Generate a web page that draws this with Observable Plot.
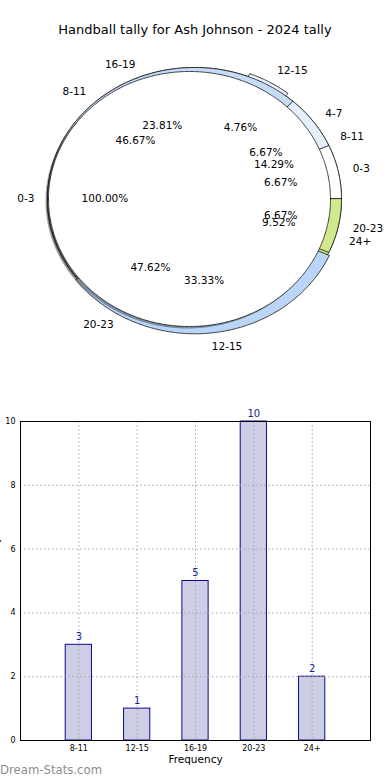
<!DOCTYPE html>
<html>
<head>
<meta charset="utf-8">
<script src="https://cdn.jsdelivr.net/npm/d3@7"></script>
<script src="https://cdn.jsdelivr.net/npm/@observablehq/plot@0.6"></script>
<style>
  html, body { margin: 0; padding: 0; background: #fff; width: 390px; height: 780px; overflow: hidden; }
  body { position: relative; font-family: "DejaVu Sans", sans-serif; }
  #title { position: absolute; left: 0; width: 390px; top: 21px; text-align: center; font-size: 13px; color: #000; line-height: 18px; }
  #pie { position: absolute; left: 0; top: 0; }
  #bars { position: absolute; left: 0; top: 400px; }
  #mark { position: absolute; left: 0; top: 761px; font-size: 11.7px; color: #8e8e8e; line-height: 18px; }
  svg { overflow: visible; }
</style>
</head>
<body>
<div id="pie"></div>
<div id="title">Handball tally for Ash Johnson - 2024 tally</div>
<div id="bars"></div>
<div id="mark">Dream-Stats.com</div>
<script>
// ---- data ----
const title = "Handball tally for Ash Johnson - 2024 tally";
const innerLabels = ["0-3"];
const innerValues = [1];
const middleLabels = ["0-3", "4-7", "8-11", "12-15", "20-23"];
const middleValues = [1, 1, 7, 5, 1];
const outerLabels = ["8-11", "12-15", "16-19", "20-23", "24+"];
const outerValues = [3, 1, 5, 10, 2];
const barLabels = ["8-11", "12-15", "16-19", "20-23", "24+"];
const barValues = [3, 1, 5, 10, 2];
const yTicks = [0, 2, 4, 6, 8, 10];
const xLabel = "Frequency";
const yLabel = "Goal Tally";
const watermark = "Dream-Stats.com";

// ---- styles ----
const sliceColors = ["#ffffff", "#e6effc", "#c6dbf6", "#bad5f8", "#d0e98c"];
const font = "DejaVu Sans";

// pie geometry (pixel space)
const geomAB = {cx: 194, cy: 198.5, rx: 147, ry: 131.5};
const geomC = {cx: 189, cy: 198.5, rx: 141, ry: 127.5};
const explodeFrac = 0.025;

function buildPie(values, labels, g, explodeIdx, key) {
  const total = d3.sum(values);
  let cum = 0;
  const wedges = [], texts = [];
  values.forEach((v, i) => {
    const a0 = cum / total * 360, a1 = (cum + v) / total * 360;
    cum += v;
    const mid = (a0 + a1) / 2 * Math.PI / 180;
    const ex = i === explodeIdx ? explodeFrac : 0;
    const ox = ex * g.rx * Math.cos(mid), oy = -ex * g.ry * Math.sin(mid);
    const pts = [];
    const full = (a1 - a0) >= 359.999;
    if (!full) pts.push({x: g.cx + ox, y: g.cy + oy});
    const n = Math.max(2, Math.ceil(a1 - a0) * 2);
    for (let k = 0; k <= n; k++) {
      const a = (a0 + (a1 - a0) * k / n) * Math.PI / 180;
      pts.push({x: g.cx + ox + g.rx * Math.cos(a), y: g.cy + oy - g.ry * Math.sin(a)});
    }
    wedges.push({id: key + i, color: sliceColors[i % sliceColors.length], pts});
    const c = Math.cos(mid), s = Math.sin(mid);
    texts.push({
      x: g.cx + ox + 1.1 * g.rx * c, y: g.cy + oy - 1.1 * g.ry * s,
      text: labels[i], anchor: c >= 0 ? "start" : "end"
    });
    texts.push({
      x: g.cx + ox + 0.6 * g.rx * c, y: g.cy + oy - 0.6 * g.ry * s,
      text: (v / total * 100).toFixed(2) + "%", anchor: "middle"
    });
  });
  return {wedges, texts};
}

function ellipsePts(g, dx, dy) {
  const pts = [];
  for (let k = 0; k <= 720; k++) {
    const a = k / 2 * Math.PI / 180;
    pts.push({x: g.cx + dx + g.rx * Math.cos(a), y: g.cy + dy - g.ry * Math.sin(a)});
  }
  return pts;
}

const pieB = buildPie(outerValues, outerLabels, geomAB, 1, "b");
const pieA = buildPie(middleValues, middleLabels, geomAB, 3, "a");
const pieC = buildPie(innerValues, innerLabels, geomC, -1, "c");

const wedgeMarks = (pie) => pie.wedges.map(w =>
  Plot.line(w.pts, {x: "x", y: "y", curve: "linear-closed", fill: w.color, stroke: "#111", strokeWidth: 0.8})
);
const shadow = (g) => Plot.line(ellipsePts(g, -2, 2), {x: "x", y: "y", curve: "linear-closed", fill: "#000", fillOpacity: 0.35, stroke: "none"});
const textMarks = (pie) => ["start", "end", "middle"].map(anchor =>
  Plot.text(pie.texts.filter(t => t.anchor === anchor), {x: "x", y: "y", text: "text", textAnchor: anchor, fontSize: 10.5, fill: "#000"})
);

const pieChart = Plot.plot({
  width: 390, height: 390, margin: 0,
  style: {fontFamily: font, background: "transparent"},
  x: {domain: [0, 390], range: [0, 390], axis: null},
  y: {domain: [0, 390], range: [0, 390], axis: null},
  marks: [
    shadow(geomAB),
    ...wedgeMarks(pieB),
    ...wedgeMarks(pieA),
    shadow(geomC),
    ...wedgeMarks(pieC),
    ...textMarks(pieB),
    ...textMarks(pieA),
    ...textMarks(pieC)
  ]
});
document.getElementById("pie").appendChild(pieChart);

// ---- bar chart ----
const barData = barLabels.map((label, i) => ({label, pos: i + 1, value: barValues[i]}));
const barHalf = 0.225;

const barChart = Plot.plot({
  width: 390, height: 380,
  marginTop: 21, marginBottom: 40, marginLeft: 20, marginRight: 20,
  style: {fontFamily: font, background: "transparent"},
  x: {domain: [0, 6]},
  y: {domain: [0, 10]},
  marks: [
    Plot.rect(barData, {x1: d => d.pos - barHalf, x2: d => d.pos + barHalf, y1: 0, y2: "value", fill: "#cdcde6", stroke: "#0c0c8c", strokeWidth: 1}),
    Plot.gridX({ticks: barData.map(d => d.pos), stroke: "#a8a8a8", strokeOpacity: 1, strokeDasharray: "1.5,2.5"}),
    Plot.gridY({ticks: yTicks.slice(1, -1), stroke: "#a8a8a8", strokeOpacity: 1, strokeDasharray: "1.5,2.5"}),
    Plot.frame({stroke: "#000", strokeWidth: 1}),
    Plot.axisY({ticks: yTicks, tickSize: 0, tickPadding: 5, fontSize: 8, label: null}),
    Plot.axisX({ticks: barData.map(d => d.pos), tickFormat: d => barLabels[d - 1], tickSize: 0, tickPadding: 5, fontSize: 8, label: null}),
    Plot.text(barData, {x: "pos", y: "value", text: d => String(d.value), dy: -8, fill: "#1c1c96", fontSize: 10}),
    Plot.text([xLabel], {frameAnchor: "bottom", dy: 22, fontSize: 10.5, fill: "#000"}),
    Plot.text([yLabel], {x: () => -0.42, y: () => 5.6, rotate: -90, fontSize: 10.5, fill: "#000"})
  ]
});
document.getElementById("bars").appendChild(barChart);
document.getElementById("title").textContent = title;
document.getElementById("mark").textContent = watermark;
</script>
</body>
</html>
